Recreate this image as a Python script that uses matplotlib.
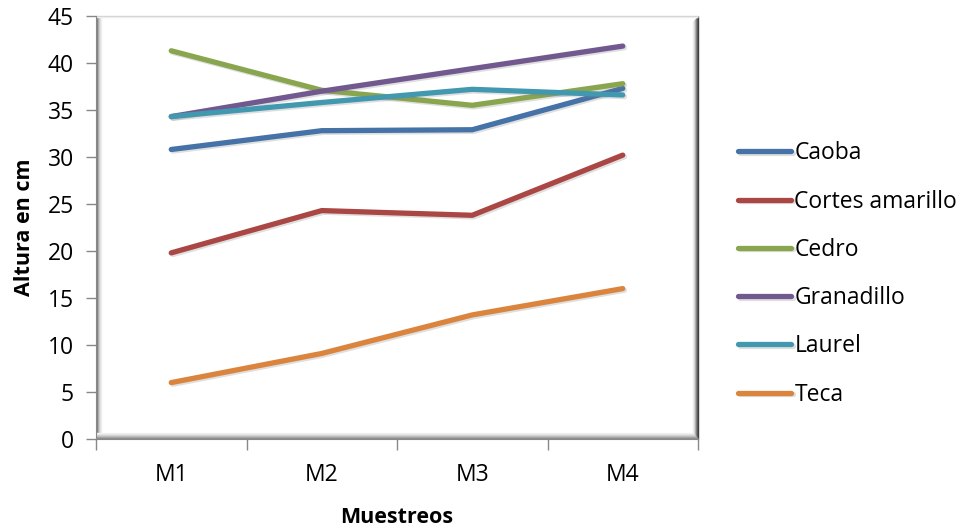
import matplotlib
matplotlib.use("Agg")
import matplotlib.pyplot as plt
import matplotlib.patheffects as pe

plt.rcParams['font.family'] = ['Open Sans', 'DejaVu Sans']

# datos
muestreos = ["M1", "M2", "M3", "M4"]
caoba = [30.8, 32.8, 32.9, 37.3]
cortes_amarillo = [19.8, 24.3, 23.8, 30.2]
cedro = [41.3, 37.1, 35.5, 37.8]
granadillo = [34.3, 37.0, 39.4, 41.8]
laurel = [34.3, 35.8, 37.2, 36.6]
teca = [6.0, 9.1, 13.2, 16.0]

series = [
    ("Caoba", caoba, "#4572A7"),
    ("Cortes amarillo", cortes_amarillo, "#AA4643"),
    ("Cedro", cedro, "#89A54E"),
    ("Granadillo", granadillo, "#71588F"),
    ("Laurel", laurel, "#4198AF"),
    ("Teca", teca, "#DB843D"),
]

fig = plt.figure(figsize=(9.64, 5.29), dpi=100)
W, H = 964, 529
x0, x1, y0, y1 = 96, 698, 16, 439
ax = fig.add_axes([x0 / W, 1 - y1 / H, (x1 - x0) / W, (y1 - y0) / H])

x = list(range(len(muestreos)))
sombra = [pe.SimpleLineShadow(offset=(1.2, -1.2), alpha=0.25, shadow_color="gray"), pe.Normal()]
for nombre, vals, color in series:
    ax.plot(x, vals, color=color, lw=3.8, solid_capstyle="round",
            solid_joinstyle="round", label=nombre, path_effects=sombra, zorder=3)

ax.set_xlim(-0.5, 3.5)
ax.set_ylim(0, 45)
ax.set_yticks(range(0, 46, 5))
ax.set_xticks(x)
ax.set_xticklabels(muestreos)
ax.set_xticks([-0.5, 0.5, 1.5, 2.5, 3.5], minor=True)
ax.tick_params(axis="x", which="major", length=0, labelsize=16.5, pad=17)
ax.tick_params(axis="x", which="minor", length=8, color="#888888", width=1)
ax.tick_params(axis="y", length=7, color="#888888", width=1, labelsize=16.5, pad=9)

for s in ["top", "right"]:
    ax.spines[s].set_visible(False)
ax.spines["left"].set_color("#888888")
ax.spines["bottom"].set_color("#888888")

# marco con bisel (estilo Excel)
px = 1.0 / (x1 - x0)
py = 1.0 / (y1 - y0)
def banda(xa, ya, xb, yb, color, lw):
    ax.plot([xa, xb], [ya, yb], transform=ax.transAxes, color=color, lw=lw,
            clip_on=False, zorder=1, solid_capstyle="butt")

grises_izq = ["#7a7a7a", "#a8a8a8", "#c8c8c8", "#e0e0e0", "#efefef"]
for i, g in enumerate(grises_izq):
    banda((1 + i) * px, (1 + i) * py, (1 + i) * px, 1, g, 1.0)
grises_der = ["#3a3a3a", "#555555", "#7a7a7a", "#a5a5a5", "#d0d0d0", "#eaeaea"]
for i, g in enumerate(grises_der):
    banda(1 - i * px, 0, 1 - i * px, 1 - i * py, g, 1.0)
grises_inf = ["#8a8a8a", "#a0a0a0", "#b8b8b8", "#cfcfcf", "#e2e2e2", "#f0f0f0"]
for i, g in enumerate(grises_inf):
    banda(0, (1 + i) * py, 1 - i * px, (1 + i) * py, g, 1.0)
banda(0, 1, 1, 1, "#d0d0d0", 1.0)
banda(0, 1 - py, 1, 1 - py, "#eeeeee", 1.0)

ax.set_ylabel("Altura en cm", fontsize=15.5, fontweight="bold", labelpad=9)
ax.set_xlabel("Muestreos", fontsize=15.5, fontweight="bold", labelpad=15)

fig.legend(loc="center left", bbox_to_anchor=(729 / W, 1 - 274 / H), frameon=False,
           fontsize=16.5, handlelength=2.3, handletextpad=0.15, labelspacing=1.06,
           borderaxespad=0)

fig.savefig("out.png", dpi=100)
